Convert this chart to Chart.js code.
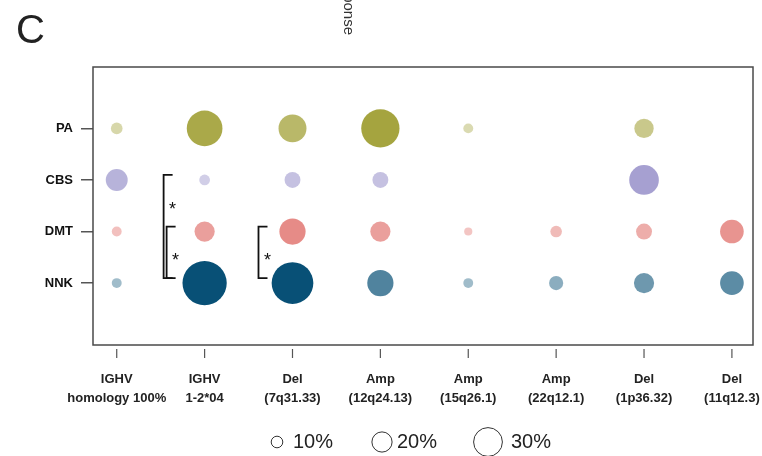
<!DOCTYPE html>
<html>
<head>
<meta charset="utf-8">
<script src="https://cdn.jsdelivr.net/npm/chart.js@4"></script>
<style>
  body { margin: 0; background: #fff; }
  canvas { display: block; }
</style>
</head>
<body>
<canvas id="myChart" width="762" height="456"></canvas>
<script>
// categories along x, rows along y (bottom to top)
let categories = [
  ["IGHV", "homology 100%"],
  ["IGHV", "1-2*04"],
  ["Del", "(7q31.33)"],
  ["Amp", "(12q24.13)"],
  ["Amp", "(15q26.1)"],
  ["Amp", "(22q12.1)"],
  ["Del", "(1p36.32)"],
  ["Del", "(11q12.3)"]
];
let rows = ["NNK", "DMT", "CBS", "PA"];

// percent values, null = no bubble
let nnk = [8, 48, 45, 27, 8, 13, 20, 24];
let dmt = [8, 20, 27, 20, 6, 10, 15, 24];
let cbs = [22, 9, 15, 15, null, null, 31, null];
let pa  = [10, 38, 29, 41, 8, null, 19, null];

let legendSizes = [10, 20, 30];

let seriesValues = [nnk, dmt, cbs, pa];
let baseColors = [[8, 80, 118], [220, 92, 86], [140, 133, 196], [160, 159, 52]];

function radiusOf(v) {
  return 1.5 + 0.43 * v;
}
function alphaOf(v) {
  return Math.min(1, 0.25 + 0.017 * v);
}

let datasets = seriesValues.map((vals, row) => {
  let pts = [];
  vals.forEach((v, i) => {
    if (v != null) pts.push({ x: i, y: row, v: v });
  });
  let c = baseColors[row];
  return {
    label: rows[row],
    data: pts,
    borderWidth: 0,
    radius: (ctx) => radiusOf(ctx.raw.v),
    backgroundColor: (ctx) => "rgba(" + c.join(",") + "," + alphaOf(ctx.raw.v) + ")"
  };
});

let framePlugin = {
  id: "frame",
  afterDraw(chart) {
    let ctx = chart.ctx, a = chart.chartArea;
    let xs = chart.scales.x, ys = chart.scales.y;
    ctx.save();
    // plot box
    ctx.strokeStyle = "#4a4a4a";
    ctx.lineWidth = 1.5;
    ctx.strokeRect(a.left, a.top, a.right - a.left, a.bottom - a.top);
    // x tick marks, set off from the box
    ctx.strokeStyle = "#555";
    ctx.lineWidth = 1.2;
    categories.forEach((c, i) => {
      let px = xs.getPixelForValue(i);
      ctx.beginPath();
      ctx.moveTo(px, a.bottom + 4);
      ctx.lineTo(px, a.bottom + 13);
      ctx.stroke();
    });

    // significance brackets
    let brackets = [
      { x: 1, off: -41, from: 2, to: 0 },
      { x: 1, off: -38, from: 1, to: 0 },
      { x: 2, off: -34, from: 1, to: 0 }
    ];
    ctx.strokeStyle = "#111";
    ctx.lineWidth = 1.8;
    ctx.fillStyle = "#111";
    ctx.font = "18px 'Liberation Sans', Arial";
    ctx.textAlign = "center";
    ctx.textBaseline = "middle";
    brackets.forEach((b) => {
      let bx = xs.getPixelForValue(b.x) + b.off;
      let y1 = ys.getPixelForValue(b.from) - 5;
      let y2 = ys.getPixelForValue(b.to) - 5;
      ctx.beginPath();
      ctx.moveTo(bx + 9, y1);
      ctx.lineTo(bx, y1);
      ctx.lineTo(bx, y2);
      ctx.lineTo(bx + 9, y2);
      ctx.stroke();
      let sy = ys.getPixelForValue(b.from - 0.5);
      ctx.fillText("*", bx + 9, sy + 4);
    });

    // size legend
    let cxs = [277, 382, 488];
    let txs = [293, 397, 511];
    ctx.strokeStyle = "#333";
    ctx.lineWidth = 1;
    ctx.fillStyle = "#222";
    ctx.font = "20px 'Liberation Sans', Arial";
    ctx.textAlign = "left";
    legendSizes.forEach((s, i) => {
      ctx.beginPath();
      ctx.arc(cxs[i], 442, radiusOf(s), 0, Math.PI * 2);
      ctx.stroke();
      ctx.fillText(s + "%", txs[i], 442);
    });

    // panel letter
    ctx.font = "40px 'Liberation Sans', Arial";
    ctx.textBaseline = "alphabetic";
    ctx.fillText("C", 16, 43);

    // cut-off axis title from the panel above
    ctx.translate(348, 35);
    ctx.rotate(Math.PI / 2);
    ctx.font = "15px 'Liberation Sans', Arial";
    ctx.fillStyle = "#333";
    ctx.textAlign = "right";
    ctx.textBaseline = "middle";
    ctx.fillText("Response", 0, 0);
    ctx.restore();
  }
};

var ctx = document.getElementById("myChart").getContext("2d");
var myChart = new Chart(ctx, {
  type: "bubble",
  data: { datasets: datasets },
  plugins: [framePlugin],
  options: {
    responsive: false,
    devicePixelRatio: 1,
    animation: false,
    layout: { autoPadding: false, padding: { top: 67, right: 9, left: 0, bottom: 0 } },
    plugins: { legend: { display: false }, tooltip: { enabled: false } },
    scales: {
      x: {
        type: "linear",
        min: -0.27,
        max: 7.24,
        afterBuildTicks: (s) => { s.ticks = categories.map((c, i) => ({ value: i })); },
        afterFit: (s) => { s.height = 111; s.paddingLeft = 0; s.paddingRight = 0; },
        grid: { display: false },
        border: { display: false },
        ticks: {
          autoSkip: false,
          maxRotation: 0,
          padding: 17,
          color: "#222",
          font: { family: "'Liberation Sans', Arial", size: 13, weight: "bold", lineHeight: 1.45 },
          callback: (v) => categories[v]
        }
      },
      y: {
        type: "linear",
        min: -1.2,
        max: 4.19,
        afterBuildTicks: (s) => { s.ticks = rows.map((r, i) => ({ value: i })); },
        afterFit: (s) => { s.width = 93; s.paddingTop = 0; s.paddingBottom = 0; },
        grid: { drawOnChartArea: false, tickLength: 12, color: "#555", lineWidth: 1.5 },
        border: { display: false },
        ticks: {
          padding: 8,
          color: "#111",
          font: { family: "'Liberation Sans', Arial", size: 13, weight: "bold" },
          callback: (v) => rows[v]
        }
      }
    }
  }
});
</script>
</body>
</html>
